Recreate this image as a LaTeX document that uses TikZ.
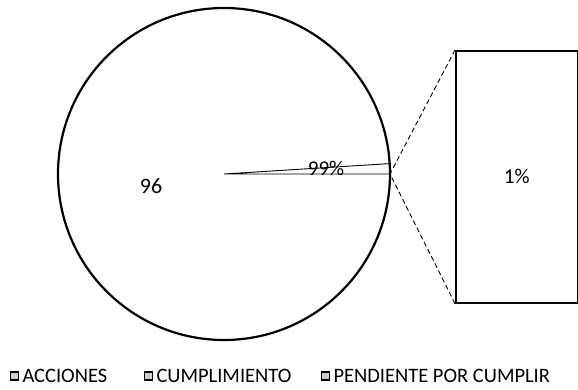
\documentclass[tikz,border=0pt]{standalone}
\usepackage{fontspec}
\setmainfont{Carlito}
\usepackage{tikz}
\usetikzlibrary{positioning}
\tikzset{legbox/.style = {draw,fill=gray!40,line width=1.6pt,minimum size=8pt,inner sep=0pt},
         legtext/.style = {inner sep=0pt,font=\fontsize{20.5}{24}\selectfont},
         lbl/.style = {font=\fontsize{21}{24}\selectfont}}

\begin{document}
\begin{tikzpicture}[x=1pt,y=-1pt]
        \useasboundingbox (0,0) rectangle (578,390);
        \coordinate (O) at (224,174);
        \draw [line width=2.2pt] (O) circle [radius=166];
        \draw [line width=0.9pt] (O) -- ++(0:166) coordinate (T)
            arc [start angle=0, end angle=-3.6, radius=166] -- cycle;
        \node [draw, line width=1.6pt, minimum width=122, minimum height=252,
               inner sep=0pt, anchor=north west] (zoom) at (455,50) {};
        \draw [line width=0.9pt, dash pattern=on 5pt off 3pt] (zoom.north west) -- (T) -- (zoom.south west);
        \node [lbl] (p1) at (zoom.center) {1\%};
        \node [lbl] (p99) at (326,168) {99\%};
        \node [font=\fontsize{22}{26}\selectfont] (n96) at (151,186) {96};
        \node [legbox] (bA) at (14.5,376) {};
        \node [legtext, right=3pt of bA] (tA) {ACCIONES};
        \node [legbox] (bC) at (148.5,376) {};
        \node [legtext, right=3pt of bC] (tC) {CUMPLIMIENTO};
        \node [legbox] (bP) at (325.5,376) {};
        \node [legtext, right=3pt of bP] (tP) {PENDIENTE POR CUMPLIR};
    \end{tikzpicture}
\end{document}
